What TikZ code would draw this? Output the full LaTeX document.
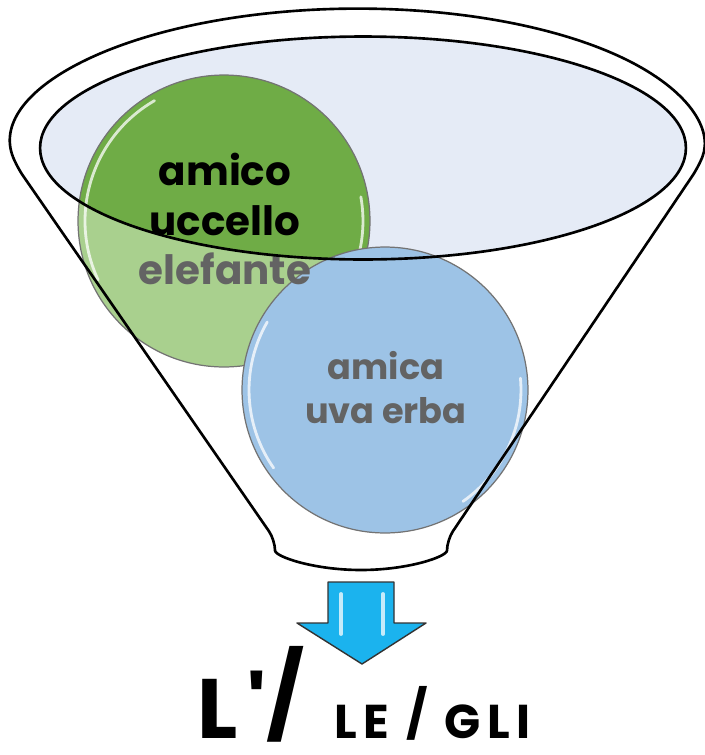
\documentclass[tikz,border=0pt]{standalone}
\usepackage{fontspec}
\setmainfont{Poppins}
\newfontfamily\popplain{Poppins}
\usetikzlibrary{positioning}

\definecolor{dgreen}{HTML}{6FAC46}
\definecolor{lgreen}{HTML}{A9D08E}
\definecolor{lblue}{HTML}{9DC3E6}
\definecolor{mouthc}{HTML}{E5EBF6}
\definecolor{txtgray}{HTML}{636363}
\definecolor{arrowc}{HTML}{1BB3EE}
\newcommand{\upslash}{\raisebox{0.14em}{/}}

\begin{document}
\begin{tikzpicture}[x=0.02cm, y=-0.02cm,
  rim/.style={draw=black, line width=1.5pt},
  bubble/.style={circle, draw=black!55, line width=0.7pt, inner sep=0pt},
  gloss/.style={white, line width=1.6pt, opacity=0.75, line cap=round},
  word/.style={font=\bfseries\fontsize{23}{28}\selectfont, align=center}]
\useasboundingbox (0,0) rectangle (705,755);
% mouth of the funnel
\fill[mouthc] (363,148) ellipse[x radius=6.46cm, y radius=2.23cm];
% first group (green), darker where it sits in the mouth
\fill[lgreen] (224,221) circle[radius=2.92cm];
\begin{scope}
  \clip (363,148) ellipse[x radius=6.46cm, y radius=2.23cm];
  \fill[dgreen] (224,221) circle[radius=2.92cm];
\end{scope}
\node[bubble, minimum size=5.84cm] (grn) at (224,221) {};
\draw[gloss] (grn.center) ++(205:2.78cm) arc[start angle=205, end angle=120, radius=2.78cm];
\draw[gloss] (grn.center) ++(-50:2.78cm) arc[start angle=-50, end angle=10, radius=2.78cm];
% second group (blue)
\node[bubble, fill=lblue, minimum size=5.72cm] (blu) at (385,390) {};
\draw[gloss] (blu.center) ++(215:2.72cm) arc[start angle=215, end angle=150, radius=2.72cm];
\draw[gloss] (blu.center) ++(-55:2.72cm) arc[start angle=-55, end angle=5, radius=2.72cm];
\node[word] (grntxt) at (225,219) {amico\\uccello\\\textcolor{txtgray}{elefante}};
\node[word, txtgray, font=\bfseries\fontsize{20}{25}\selectfont] (blutxt) at (386,388) {amica\\uva erba};
% funnel outline
\draw[rim] (363,148) ellipse[x radius=6.46cm, y radius=2.23cm];
\draw[rim, rounded corners=6pt] (17,167) arc[start angle=189, end angle=-9, x radius=6.9cm, y radius=2.74cm]
  -- (447,540) arc[start angle=0, end angle=-180, x radius=1.72cm, y radius=0.6cm] -- cycle;
% arrow down
\filldraw[fill=arrowc, draw=black!80, line width=0.8pt, line join=round]
  (328,582) -- (394,582) -- (394,623) -- (426,623) -- (362,664) -- (297,623) -- (328,623) -- cycle;
\draw[gloss, line width=2.2pt] (341,594) -- (341,634);
\draw[gloss, line width=2.2pt] (383,594) -- (383,634);
\node[anchor=base, font=\popplain\bfseries, inner sep=0pt] (res) at (364,738)
  {\fontsize{48}{48}\selectfont\addfontfeature{LetterSpace=12}L'\upslash\hspace{0.35em}\fontsize{27}{27}\selectfont\addfontfeature{LetterSpace=14}LE \upslash{} GLI};
\end{tikzpicture}
\end{document}
